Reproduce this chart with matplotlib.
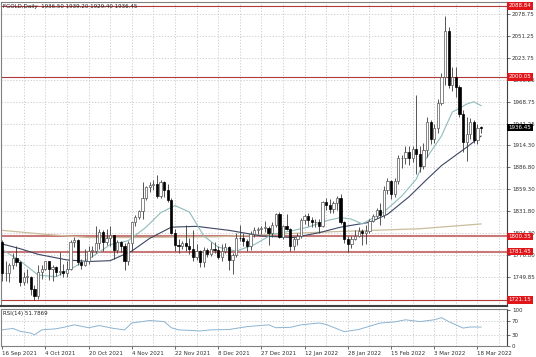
import numpy as np
import matplotlib.pyplot as plt

# daily candles, FGOLD, 16 Sep 2021 .. 22 Mar 2022
opens = [1794, 1754, 1754, 1764, 1774, 1768, 1743, 1750, 1750, 1734, 1726, 1756, 1760, 1769, 1760, 1762, 1756, 1757, 1754, 1760,
         1793, 1796, 1768, 1765, 1769, 1782, 1782, 1792, 1806, 1793, 1798, 1802, 1783, 1793, 1788, 1769, 1792, 1818, 1825, 1832,
         1849, 1862, 1865, 1866, 1851, 1869, 1858, 1846, 1805, 1790, 1789, 1792, 1788, 1785, 1775, 1782, 1768, 1783, 1779, 1785,
         1783, 1775, 1782, 1787, 1771, 1777, 1799, 1798, 1795, 1789, 1803, 1808, 1810, 1811, 1811, 1805, 1815, 1829, 1800, 1814,
         1810, 1789, 1797, 1801, 1821, 1826, 1821, 1818, 1819, 1813, 1843, 1840, 1835, 1842, 1848, 1819, 1797, 1791, 1797, 1801,
         1807, 1805, 1807, 1820, 1826, 1833, 1827, 1859, 1870, 1853, 1870, 1898, 1898, 1906, 1898, 1910, 1903, 1889, 1908, 1943,
         1922, 1936, 1968, 2000, 2057, 1990, 2000, 1988, 1954, 1918, 1928, 1943, 1921, 1936.5]
highs = [1796, 1769, 1767, 1780, 1788, 1770, 1756, 1760, 1751, 1740, 1765, 1765, 1770, 1770, 1765, 1763, 1781, 1766, 1770, 1796,
         1800, 1797, 1772, 1785, 1788, 1789, 1814, 1810, 1808, 1810, 1813, 1802, 1796, 1795, 1792, 1795, 1818, 1827, 1834, 1868,
         1864, 1869, 1871, 1877, 1871, 1870, 1866, 1849, 1810, 1797, 1795, 1815, 1799, 1808, 1791, 1784, 1787, 1786, 1793, 1793,
         1789, 1791, 1792, 1789, 1780, 1805, 1815, 1805, 1797, 1807, 1812, 1812, 1814, 1820, 1813, 1818, 1830, 1831, 1815, 1829,
         1811, 1800, 1805, 1823, 1828, 1830, 1825, 1822, 1822, 1845, 1848, 1847, 1845, 1851, 1853, 1820, 1801, 1801, 1808, 1812,
         1810, 1815, 1822, 1829, 1836, 1842, 1864, 1874, 1871, 1873, 1902, 1902, 1913, 1914, 1914, 1977, 1914, 1917, 1950, 1946,
         1941, 1972, 2005, 2076, 2062, 2012, 2012, 1990, 1958, 1950, 1948, 1946, 1941, 1939.2]
lows = [1745, 1745, 1743, 1760, 1763, 1738, 1740, 1742, 1727, 1721, 1722, 1747, 1758, 1746, 1745, 1751, 1752, 1749, 1750, 1758,
        1787, 1765, 1760, 1763, 1766, 1775, 1780, 1785, 1782, 1790, 1789, 1772, 1780, 1781, 1758, 1765, 1782, 1813, 1822, 1822,
        1846, 1856, 1858, 1849, 1849, 1850, 1843, 1803, 1782, 1780, 1785, 1782, 1779, 1770, 1771, 1762, 1762, 1775, 1776, 1780,
        1772, 1770, 1780, 1758, 1753, 1775, 1795, 1788, 1782, 1784, 1800, 1804, 1803, 1806, 1790, 1800, 1812, 1798, 1797, 1808,
        1782, 1783, 1790, 1798, 1816, 1813, 1812, 1812, 1805, 1812, 1833, 1830, 1830, 1834, 1816, 1792, 1781, 1786, 1796, 1800,
        1790, 1791, 1805, 1818, 1823, 1815, 1823, 1853, 1847, 1850, 1866, 1886, 1891, 1890, 1893, 1878, 1881, 1885, 1900, 1916,
        1917, 1930, 1965, 1990, 1986, 1982, 1975, 1950, 1906, 1895, 1922, 1917, 1916, 1929.4]
closes = [1754, 1754, 1764, 1774, 1768, 1743, 1750, 1750, 1734, 1726, 1756, 1760, 1769, 1760, 1762, 1756, 1757, 1754, 1760, 1793,
          1796, 1768, 1765, 1769, 1782, 1782, 1792, 1806, 1793, 1798, 1802, 1783, 1793, 1788, 1769, 1792, 1818, 1825, 1832, 1849,
          1862, 1865, 1866, 1851, 1869, 1858, 1846, 1805, 1790, 1789, 1792, 1788, 1785, 1775, 1782, 1768, 1783, 1779, 1785, 1783,
          1775, 1782, 1787, 1771, 1777, 1799, 1798, 1795, 1789, 1803, 1808, 1810, 1811, 1811, 1805, 1815, 1829, 1800, 1814, 1810,
          1789, 1797, 1801, 1821, 1826, 1821, 1818, 1819, 1813, 1843, 1840, 1835, 1842, 1848, 1819, 1797, 1791, 1797, 1801, 1807,
          1805, 1807, 1820, 1826, 1833, 1827, 1859, 1870, 1853, 1870, 1898, 1898, 1906, 1898, 1910, 1903, 1889, 1908, 1943, 1922,
          1936, 1968, 2000, 2057, 1990, 2000, 1988, 1954, 1918, 1928, 1943, 1921, 1936, 1936.45]

# moving averages, read at a few bars
fast_idx = [0, 5, 10, 15, 20, 25, 30, 35, 40, 44, 48, 52, 56, 60, 65, 70, 75, 80, 85, 90, 94, 97, 100, 106, 111, 115, 117, 122, 125, 129, 131, 133]
fast_val = [1784, 1770, 1752, 1750, 1762, 1775, 1790, 1795, 1812, 1830, 1839, 1831, 1801, 1787, 1782, 1790, 1803, 1807, 1812, 1820, 1824, 1822, 1816, 1831, 1851, 1872, 1893, 1926, 1956, 1966, 1969, 1964]
slow_idx = [0, 5, 10, 18, 24, 30, 36, 41, 47, 54, 63, 72, 81, 88, 94, 102, 107, 113, 118, 122, 129, 133]
slow_val = [1791, 1785, 1778, 1771, 1769, 1770, 1782, 1798, 1812, 1813, 1808, 1801, 1799, 1805, 1812, 1818, 1828, 1850, 1872, 1889, 1912, 1926]
long_idx = [0, 12, 24, 36, 60, 90, 116, 133]
long_val = [1808, 1803, 1799, 1799, 1800, 1806, 1810, 1816]

# RSI(14), read at a few bars
rsi_idx = [0, 3, 5, 8, 9, 11, 15, 18, 20, 24, 27, 31, 34, 36, 41, 45, 47, 49, 55, 58, 63, 68, 74, 76, 80, 83, 88, 90, 95, 99, 105, 109, 112, 116, 120, 122, 124, 126, 128, 130, 133]
rsi_val = [44, 48, 40, 35, 30, 44, 47, 53, 58, 50, 56, 48, 44, 63, 70, 67, 50, 44, 41, 44, 45, 53, 58, 50, 51, 58, 63, 59, 39, 45, 63, 66, 72, 67, 72, 78, 67, 58, 49, 52, 51.79]

levels = [2088.84, 2000.05, 1800.35, 1781.45, 1721.15]
price_ticks = [2078.75, 2051.25, 2023.75, 1996.25, 1968.75, 1941.25, 1914.30, 1886.80, 1859.30, 1831.80, 1804.30, 1776.80, 1749.85]
date_labels = ['16 Sep 2021', '4 Oct 2021', '20 Oct 2021', '4 Nov 2021', '22 Nov 2021', '8 Dec 2021',
               '27 Dec 2021', '12 Jan 2022', '28 Jan 2022', '15 Feb 2022', '3 Mar 2022', '18 Mar 2022']
last_price = 1936.45

W, H = 536, 357
fig = plt.figure(figsize=(W / 100, H / 100), dpi=100)
ax = fig.add_axes([1 / W, (H - 306) / H, 506 / W, 304 / H])
ax2 = fig.add_axes([1 / W, (H - 345.7) / H, 506 / W, 36.7 / H])

n = len(closes)
x = np.arange(n)
xl = (-0.3, 140.2)
grid_kw = dict(color='#c8c8c8', lw=0.6, ls=(0, (1.5, 2)))

for a in (ax, ax2):
    a.set_xlim(*xl)
    for gx in np.arange(6, xl[1], 6):
        a.axvline(gx, zorder=0, **grid_kw)
    for s in a.spines.values():
        s.set_color('#808080')
        s.set_linewidth(0.8)
    a.spines['right'].set_color('#404040')

ax.set_ylim(1713.3, 2093.8)
for p in price_ticks:
    ax.axhline(p, zorder=0, **grid_kw)

# levels
for lv in levels:
    thick = lv in (1800.35, 1781.45)
    ax.axhline(lv, color='#c87878' if thick else '#b03a3a', lw=1.5 if thick else 0.8, zorder=1)

# moving averages
ax.plot(long_idx, long_val, color='#cbbd9c', lw=0.9, zorder=2)
ax.plot(slow_idx, slow_val, color='#3c4664', lw=0.8, zorder=2)
ax.plot(fast_idx, fast_val, color='#8fbcbc', lw=0.8, zorder=2)

# candles
o = np.array(opens); h = np.array(highs); l = np.array(lows); c = np.array(closes)
up = c >= o
ax.vlines(x, l, h, color='#3a3a3a', lw=0.6, zorder=3)
bot = np.minimum(o, c)
ht = np.maximum(np.abs(c - o), 0.8)
ax.bar(x[up], ht[up], bottom=bot[up], width=0.62, color='white', edgecolor='#555555', lw=0.5, zorder=4)
ax.bar(x[~up], ht[~up], bottom=bot[~up], width=0.62, color='black', edgecolor='black', lw=0.5, zorder=4)

ax.yaxis.tick_right()
ax.set_yticks(price_ticks)
ax.set_yticklabels(['%.2f' % p for p in price_ticks])
ax.tick_params(axis='y', labelsize=4, length=2, width=0.5, pad=1.5, colors='#303030')
ax.set_xticks([])

# level boxes on the price scale (they cover the scale labels, as in the terminal)
tr = ax.get_yaxis_transform()
for lv in levels:
    ax.text(1.003, lv, '%.2f' % lv, transform=tr, fontsize=4, color='white', va='center', ha='left',
            bbox=dict(facecolor='#e0161b', edgecolor='none', pad=0.9), zorder=10, clip_on=False)
ax.text(1.003, last_price, '%.2f' % last_price, transform=tr, fontsize=4, color='white', va='center', ha='left',
        bbox=dict(facecolor='black', edgecolor='none', pad=0.9), zorder=10, clip_on=False)

ax.text(0.004, 0.992, 'FGOLD,Daily  1936.50 1939.20 1929.40 1936.45', transform=ax.transAxes,
        fontsize=4, va='top', ha='left', color='#202020')

# RSI panel
ax2.set_ylim(0, 102)
for lv in (70, 30):
    ax2.axhline(lv, zorder=0, **grid_kw)
ax2.plot(rsi_idx, rsi_val, color='#8cb4d2', lw=0.7)
ax2.yaxis.tick_right()
ax2.set_yticks([100, 70, 30, 0])
ax2.set_yticklabels(['100', '70', '30', '0'])
ax2.tick_params(axis='y', labelsize=4, length=2, width=0.5, pad=1.5, colors='#303030')
ax2.text(0.004, 0.95, 'RSI(14) 51.7869', transform=ax2.transAxes, fontsize=4, va='top', ha='left', color='#202020')

ax2.set_xticks(np.arange(len(date_labels)) * 12)
ax2.set_xticklabels(date_labels, ha='left')
ax2.tick_params(axis='x', labelsize=4, length=2, width=0.5, pad=1.5, colors='#303030')
ax.spines['bottom'].set_color('#404040')
ax.spines['bottom'].set_linewidth(1.5)

fig.savefig('out.png', dpi=100, facecolor='white')
